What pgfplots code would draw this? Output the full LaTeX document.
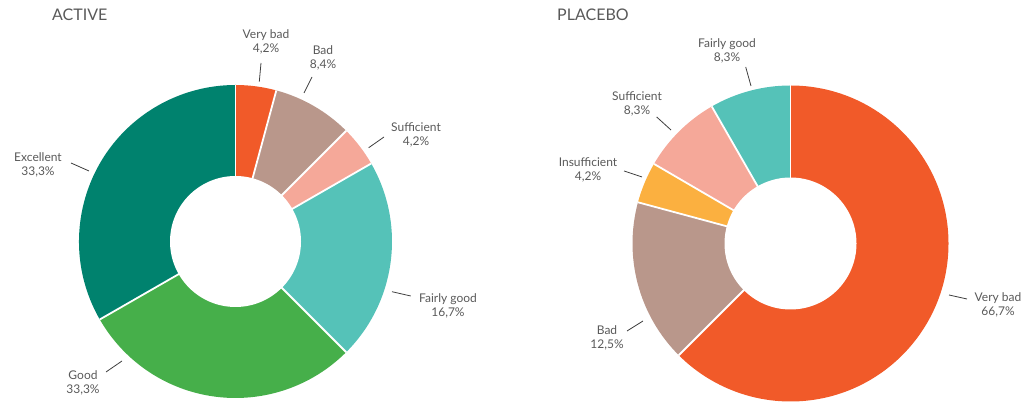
\documentclass[border=0pt]{standalone}
\usepackage{pgfplots}
\pgfplotsset{compat=1.18}
\usepackage{pgfplotstable}
\usepackage{fontspec}
\setmainfont{Lato}

\definecolor{cVeryBad}{HTML}{F15A29}
\definecolor{cBad}{HTML}{B9978B}
\definecolor{cSuff}{HTML}{F5A899}
\definecolor{cFair}{HTML}{55C2B8}
\definecolor{cGood}{HTML}{46AF4A}
\definecolor{cExc}{HTML}{00826E}
\definecolor{cInsuff}{HTML}{FBB040}
\definecolor{txt}{HTML}{595959}
\definecolor{lead}{HTML}{3F3F3F}

% slice sizes as drawn in the reference (share of the ring, in %)
\pgfplotstableread{
label value color
VeryBad 4.2 cVeryBad
Bad 8.3 cBad
Sufficient 4.2 cSuff
FairlyGood 20.8 cFair
Good 29.2 cGood
Excellent 33.3 cExc
}\activetable

\pgfplotstableread{
label value color
VeryBad 62.5 cVeryBad
Bad 16.7 cBad
Insufficient 4.2 cInsuff
Sufficient 8.3 cSuff
FairlyGood 8.3 cFair
}\placebotable

% #1 table, #2 name of resulting macro, #3 cx, #4 cy, #5 R, #6 r
\newcommand\builddonut[6]{%
  \pgfplotstablegetrowsof{#1}\pgfmathtruncatemacro\nlast{\pgfplotsretval-1}%
  \gdef\tot{0}%
  \foreach \j in {0,...,\nlast}{%
    \pgfplotstablegetelem{\j}{value}\of{#1}%
    \pgfmathsetmacro\tmpt{\tot+\pgfplotsretval}\xdef\tot{\tmpt}}%
  \gdef\cum{0}\gdef\fills{}\gdef\seps{}%
  \foreach \j in {0,...,\nlast}{%
    \pgfplotstablegetelem{\j}{value}\of{#1}\let\myval\pgfplotsretval
    \pgfplotstablegetelem{\j}{color}\of{#1}\let\mycol\pgfplotsretval
    \pgfmathsetmacro\angA{90-360*(\cum/\tot)}%
    \pgfmathsetmacro\nc{\cum+\myval}\xdef\cum{\nc}%
    \pgfmathsetmacro\angB{90-360*(\cum/\tot)}%
    \pgfmathsetmacro\xs{#3+#5*cos(\angA)}%
    \pgfmathsetmacro\ys{#4+#5*sin(\angA)}%
    \xdef\fills{\unexpanded\expandafter{\fills}\noexpand\fill[overlay, fill=\mycol] (axis cs:#3,#4) -- (axis cs:\xs,\ys) arc[start angle=\angA, end angle=\angB, radius=#5pt] -- cycle;}%
    \xdef\seps{\unexpanded\expandafter{\seps}\noexpand\draw[overlay, white, line width=1.8pt] (axis cs:#3,#4) -- (axis cs:\xs,\ys);}%
  }%
  \expandafter\xdef\csname #2\endcsname{\unexpanded\expandafter{\fills}\unexpanded\expandafter{\seps}\noexpand\fill[overlay, white] (axis cs:#3,#4) circle[radius=#6pt];}%
}

\builddonut{\activetable}{activedonut}{235.5}{161.5}{156.5}{65.5}
\builddonut{\placebotable}{placebodonut}{790.5}{159.5}{158}{66}

\begin{document}
\begin{tikzpicture}[
  lab/.style={align=center, text=txt, font=\fontsize{12}{14}\selectfont, inner sep=0pt},
  ttl/.style={anchor=west, text=txt, font=\fontsize{16}{18}\selectfont, inner sep=0pt},
  ld/.style={draw=lead, line width=0.8pt},
]
\begin{axis}[
  x=1pt, y=1pt,
  xmin=0, xmax=1033, ymin=0, ymax=403,
  hide axis, clip=false,
  anchor=origin, at={(0,0)},
]
\path (axis cs:0,0) rectangle (axis cs:1033,403);
\activedonut
\placebodonut

\node[ttl] at (axis cs:52,388) {ACTIVE};
\node[ttl] at (axis cs:557,388) {PLACEBO};

% ACTIVE labels
\node[lab] at (axis cs:266,361) {Very bad\\4,2\%};
\node[lab] at (axis cs:323,345.5) {Bad\\8,4\%};
\node[lab] at (axis cs:416,268) {Sufficient\\4,2\%};
\node[lab] at (axis cs:448,97.5) {Fairly good\\16,7\%};
\node[lab] at (axis cs:83,20.5) {Good\\33,3\%};
\node[lab] at (axis cs:38,238) {Excellent\\33,3\%};
\draw[ld] (axis cs:261,340) -- (axis cs:259.3,321.3);
\draw[ld] (axis cs:312,326) -- (axis cs:304,310);
\draw[ld] (axis cs:384,266) -- (axis cs:368.7,255.3);
\draw[ld] (axis cs:392,111.3) -- (axis cs:410.7,107);
\draw[ld] (axis cs:106,31) -- (axis cs:122,42);
\draw[ld] (axis cs:71,240) -- (axis cs:89,232);

% PLACEBO labels
\node[lab] at (axis cs:727,352) {Fairly good\\8,3\%};
\node[lab] at (axis cs:637,299) {Sufficient\\8,3\%};
\node[lab] at (axis cs:588,233) {Insufficient\\4,2\%};
\node[lab] at (axis cs:607,65) {Bad\\12,5\%};
\node[lab] at (axis cs:998,98.3) {Very bad\\66,7\%};
\draw[ld] (axis cs:745.7,336) -- (axis cs:751,317);
\draw[ld] (axis cs:656.7,286) -- (axis cs:671,273);
\draw[ld] (axis cs:624,232) -- (axis cs:642,226);
\draw[ld] (axis cs:627,72) -- (axis cs:643,82);
\draw[ld] (axis cs:949,108) -- (axis cs:967,104);
\end{axis}
\end{tikzpicture}
\end{document}
